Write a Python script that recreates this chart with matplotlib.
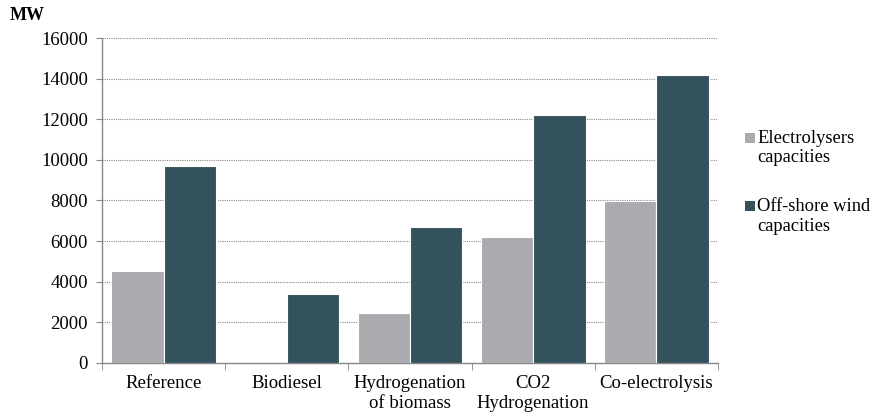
import matplotlib
matplotlib.use("Agg")
import matplotlib.pyplot as plt
from matplotlib.patches import Rectangle
import numpy as np

categories = ["Reference", "Biodiesel", "Hydrogenation\nof biomass", "CO2\nHydrogenation", "Co-electrolysis"]
electrolysers = [4530, 0, 2450, 6220, 7980]
offshore_wind = [9700, 3420, 6700, 12200, 14200]
series_labels = ["Electrolysers\ncapacities", "Off-shore wind\ncapacities"]
yticks = [0, 2000, 4000, 6000, 8000, 10000, 12000, 14000, 16000]

plt.rcParams['font.family'] = ['Liberation Serif', 'DejaVu Serif']
plt.rcParams['font.size'] = 13.5

fig = plt.figure(figsize=(8.74, 4.19), dpi=100)
ax = fig.add_axes([0.1167, 0.1337, 0.7048, 0.7756])

x = np.arange(len(categories))
w = 0.425
colors = ["#A9ABAE", "#33525C"]
ax.bar(x - w/2, electrolysers, w, color=colors[0], edgecolor="white", linewidth=0.8, zorder=3)
ax.bar(x + w/2, offshore_wind, w, color=colors[1], edgecolor="white", linewidth=0.8, zorder=3)

ax.set_xlim(-0.5, len(categories) - 0.5)
ax.set_ylim(0, 16000)
ax.set_yticks(yticks)
ax.set_yticklabels([str(v) for v in yticks])
ax.yaxis.grid(True, linestyle=(0, (1, 1)), color="#8a8a8a", linewidth=0.8, zorder=0)
ax.set_axisbelow(True)

ax.set_xticks(x)
ax.set_xticklabels(categories, linespacing=1.2)
ax.set_xticks(np.arange(-0.5, len(categories)), minor=True)
ax.tick_params(axis="x", which="major", length=0, pad=9)
ax.tick_params(axis="x", which="minor", length=5, color="#888888", direction="out")
ax.tick_params(axis="y", length=4, color="#888888", direction="out", pad=6)

for s in ["top", "right"]:
    ax.spines[s].set_visible(False)
for s in ["left", "bottom"]:
    ax.spines[s].set_color("#888888")
    ax.spines[s].set_linewidth(1.0)

fig.text(0.011, 0.962, "MW", fontweight="bold", fontsize=13, ha="left", va="center")

# legend drawn manually: marker aligned with first text line
leg_items = [(0.6706, 0.6468), (0.5084, 0.4833)]
W, H = fig.get_size_inches() * fig.dpi
for (ym, yt), col, lab in zip(leg_items, colors, series_labels):
    fig.patches.append(Rectangle((745 / W, ym - 5 / H), 10 / W, 10 / H,
                                 transform=fig.transFigure, facecolor=col, edgecolor="none"))
    fig.text(757 / W, yt, lab, fontsize=13.3, ha="left", va="center", linespacing=1.22)

fig.savefig("out.png", dpi=100)
